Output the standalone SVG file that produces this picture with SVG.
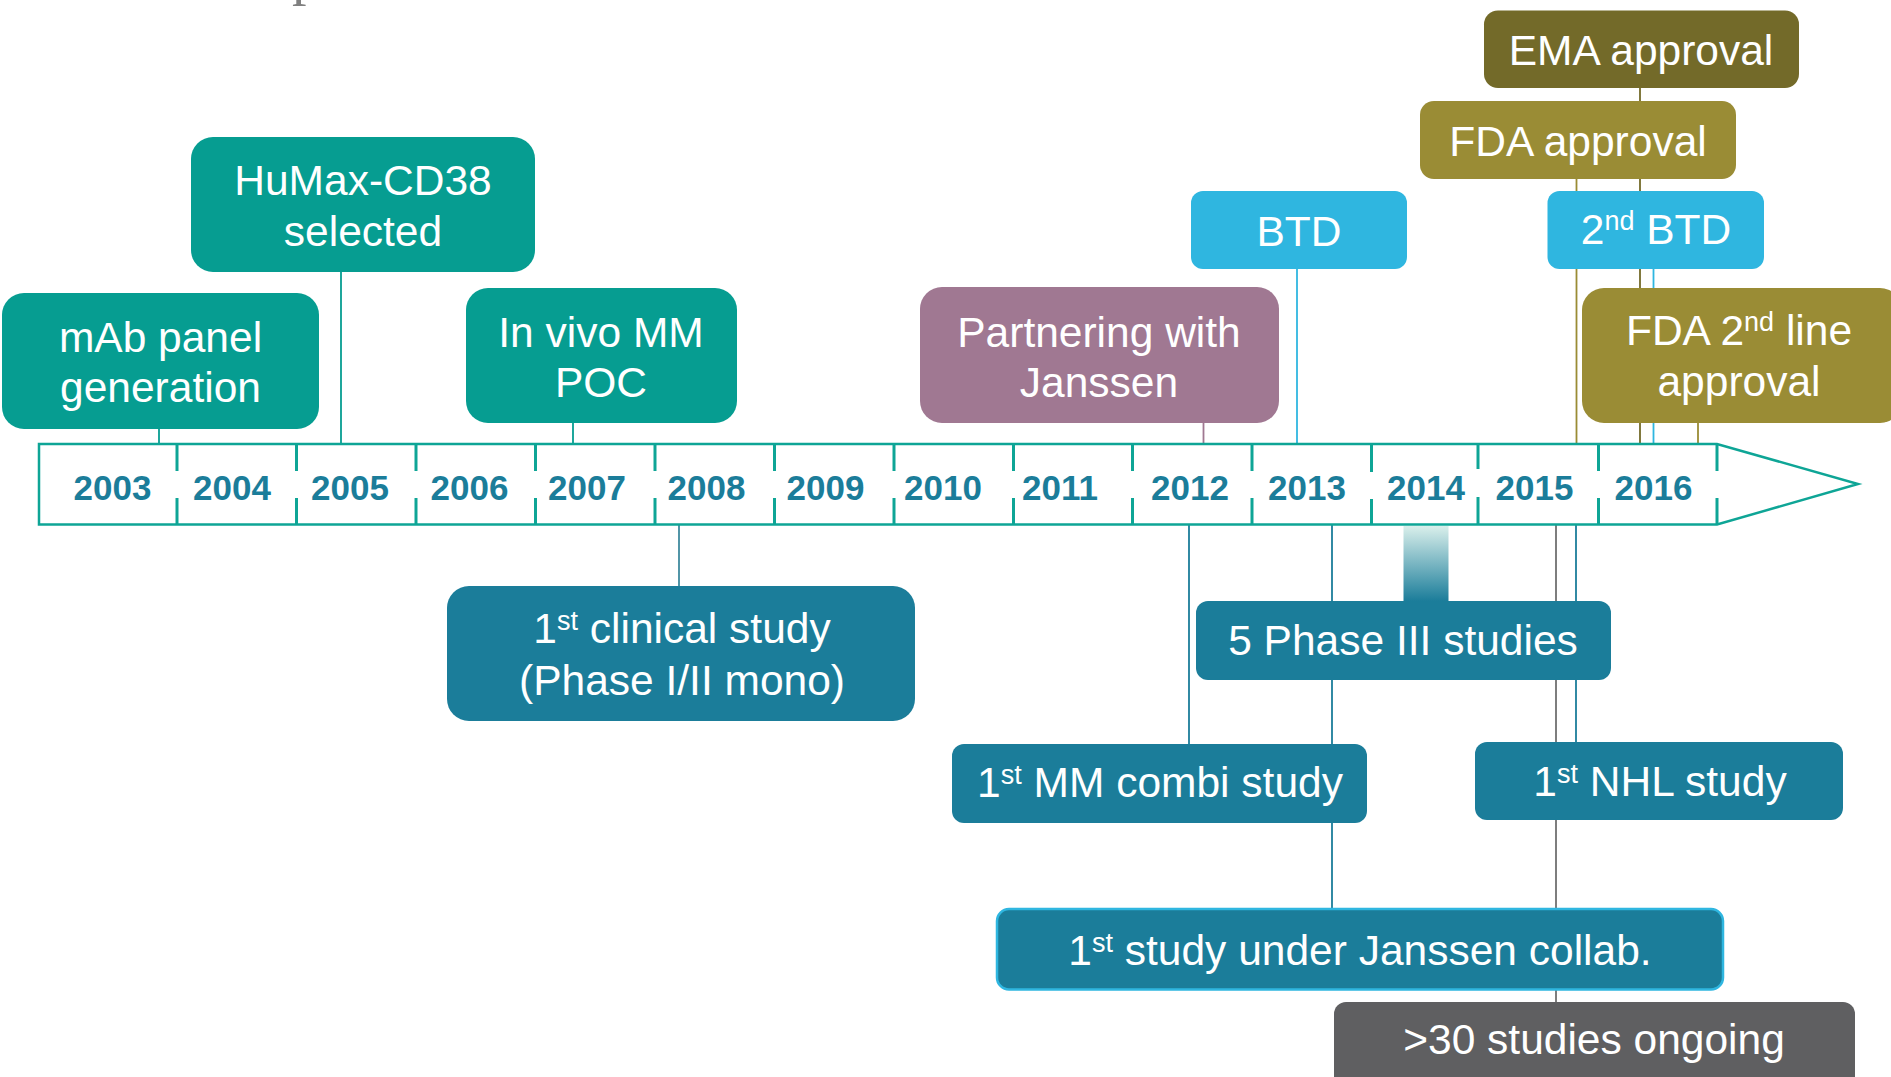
<svg xmlns="http://www.w3.org/2000/svg" width="1891" height="1077" viewBox="0 0 1891 1077">
<style>
  .lbl { font-family: "Liberation Sans", Arial, sans-serif; font-size: 42.5px; fill: #ffffff; text-anchor: middle; }
  .sup { font-size: 27px; }
  .yr { font-family: "Liberation Sans", Arial, sans-serif; font-size: 35px; font-weight: bold; fill: #1b7d9a; text-anchor: middle; }
  .teal { fill: #069d91; }
  .blue { fill: #1b7d9a; }
  .cyan { fill: #2fb6e0; }
  .mauve { fill: #a07892; }
  .olive { fill: #9a8c35; }
  .dolive { fill: #736a29; }
  .gray { fill: #5f5f61; }
  .tick { stroke: #0ea596; stroke-width: 3; }
  line.c { stroke-width: 1.8; }
</style>
<defs>
  <linearGradient id="g3" x1="0" y1="0" x2="0" y2="1">
    <stop offset="0" stop-color="#d9efeb"/>
    <stop offset="1" stop-color="#1b7d9a"/>
  </linearGradient>
</defs>

<text x="292" y="-6" font-family="Liberation Serif, serif" font-size="58" fill="#808080">p</text>

<g id="connectors">
  <line class="c" x1="159" y1="429" x2="159" y2="444" stroke="#069d91"/>
  <line class="c" x1="341" y1="272" x2="341" y2="444" stroke="#069d91"/>
  <line class="c" x1="573" y1="423" x2="573" y2="444" stroke="#069d91"/>
  <line class="c" x1="1203.5" y1="423" x2="1203.5" y2="444" stroke="#a07892"/>
  <line class="c" x1="1297" y1="269" x2="1297" y2="444" stroke="#2fb6e0"/>
  <line class="c" x1="1576.5" y1="179" x2="1576.5" y2="444" stroke="#9a8c35"/>
  <line class="c" x1="1640" y1="88" x2="1640" y2="444" stroke="#736a29"/>
  <line class="c" x1="1653.5" y1="269" x2="1653.5" y2="444" stroke="#2fb6e0"/>
  <line class="c" x1="1698" y1="423" x2="1698" y2="444" stroke="#9a8c35"/>
  <line class="c" x1="679" y1="525" x2="679" y2="586" stroke="#3f8a9e"/>
  <line class="c" x1="1189" y1="525" x2="1189" y2="744" stroke="#1b7d9a"/>
  <line class="c" x1="1332" y1="525" x2="1332" y2="909" stroke="#1b7d9a"/>
  <line class="c" x1="1556" y1="525" x2="1556" y2="1002" stroke="#707070"/>
  <line class="c" x1="1576" y1="525" x2="1576" y2="742" stroke="#1b7d9a"/>
</g>

<g id="timeline">
  <path d="M39,444 H1717 L1858,484 L1717,524.5 H39 Z" fill="#ffffff" stroke="#0ea596" stroke-width="2.5"/>
  <g class="tick">
    <line x1="177" y1="444" x2="177" y2="471"/><line x1="177" y1="498" x2="177" y2="524.5"/>
    <line x1="296.5" y1="444" x2="296.5" y2="471"/><line x1="296.5" y1="498" x2="296.5" y2="524.5"/>
    <line x1="416" y1="444" x2="416" y2="471"/><line x1="416" y1="498" x2="416" y2="524.5"/>
    <line x1="535.5" y1="444" x2="535.5" y2="471"/><line x1="535.5" y1="498" x2="535.5" y2="524.5"/>
    <line x1="655" y1="444" x2="655" y2="471"/><line x1="655" y1="498" x2="655" y2="524.5"/>
    <line x1="774.5" y1="444" x2="774.5" y2="471"/><line x1="774.5" y1="498" x2="774.5" y2="524.5"/>
    <line x1="894" y1="444" x2="894" y2="471"/><line x1="894" y1="498" x2="894" y2="524.5"/>
    <line x1="1013.5" y1="444" x2="1013.5" y2="471"/><line x1="1013.5" y1="498" x2="1013.5" y2="524.5"/>
    <line x1="1132.5" y1="444" x2="1132.5" y2="471"/><line x1="1132.5" y1="498" x2="1132.5" y2="524.5"/>
    <line x1="1252" y1="444" x2="1252" y2="471"/><line x1="1252" y1="498" x2="1252" y2="524.5"/>
    <line x1="1371.5" y1="444" x2="1371.5" y2="472"/><line x1="1371.5" y1="499" x2="1371.5" y2="524.5"/>
    <line x1="1478" y1="444" x2="1478" y2="469"/><line x1="1478" y1="497" x2="1478" y2="524.5"/>
    <line x1="1598.5" y1="444" x2="1598.5" y2="471"/><line x1="1598.5" y1="498" x2="1598.5" y2="524.5"/>
    <line x1="1717" y1="444" x2="1717" y2="471"/><line x1="1717" y1="498" x2="1717" y2="524.5"/>
  </g>
  <text class="yr" x="112.5" y="500">2003</text>
  <text class="yr" x="232" y="500">2004</text>
  <text class="yr" x="350" y="500">2005</text>
  <text class="yr" x="469.5" y="500">2006</text>
  <text class="yr" x="587" y="500">2007</text>
  <text class="yr" x="706.5" y="500">2008</text>
  <text class="yr" x="825.5" y="500">2009</text>
  <text class="yr" x="943" y="500">2010</text>
  <text class="yr" x="1060" y="500">2011</text>
  <text class="yr" x="1190" y="500">2012</text>
  <text class="yr" x="1307" y="500">2013</text>
  <text class="yr" x="1426" y="500">2014</text>
  <text class="yr" x="1534.5" y="500">2015</text>
  <text class="yr" x="1653.5" y="500">2016</text>
</g>

<g id="phase3-span">
  <rect x="1403.5" y="526" width="45" height="75" fill="url(#g3)"/>
</g>

<g id="n-mab">
  <rect class="teal" x="2" y="293" width="317" height="136" rx="22"/>
  <text class="lbl" x="160.5" y="352">mAb panel</text>
  <text class="lbl" x="160.5" y="402">generation</text>
</g>
<g id="n-humax">
  <rect class="teal" x="191" y="137" width="344" height="135" rx="22"/>
  <text class="lbl" x="363" y="195">HuMax-CD38</text>
  <text class="lbl" x="363" y="246">selected</text>
</g>
<g id="n-invivo">
  <rect class="teal" x="466" y="288" width="271" height="135" rx="22"/>
  <text class="lbl" x="601" y="347">In vivo MM</text>
  <text class="lbl" x="601" y="397">POC</text>
</g>
<g id="n-partnering">
  <rect class="mauve" x="920" y="287" width="359" height="136" rx="22"/>
  <text class="lbl" x="1099" y="347">Partnering with</text>
  <text class="lbl" x="1099" y="397">Janssen</text>
</g>
<g id="n-btd">
  <rect class="cyan" x="1191" y="191" width="216" height="78" rx="12"/>
  <text class="lbl" x="1299" y="246">BTD</text>
</g>
<g id="n-ema">
  <rect class="dolive" x="1484" y="10.5" width="315" height="77.5" rx="14"/>
  <text class="lbl" x="1641" y="65">EMA approval</text>
</g>
<g id="n-fda">
  <rect class="olive" x="1420" y="101" width="316" height="78" rx="14"/>
  <text class="lbl" x="1578" y="156">FDA approval</text>
</g>
<g id="n-btd2">
  <rect class="cyan" x="1547.5" y="191" width="216.5" height="78" rx="12"/>
  <text class="lbl" x="1656" y="244">2<tspan class="sup" dy="-14">nd</tspan><tspan dy="14"> BTD</tspan></text>
</g>
<g id="n-fda2">
  <rect class="olive" x="1582" y="288" width="320" height="135" rx="22"/>
  <text class="lbl" x="1739" y="345">FDA 2<tspan class="sup" dy="-14">nd</tspan><tspan dy="14"> line</tspan></text>
  <text class="lbl" x="1739" y="396">approval</text>
</g>
<g id="n-clinical">
  <rect class="blue" x="447" y="586" width="468" height="135" rx="22"/>
  <text class="lbl" x="682" y="643">1<tspan class="sup" dy="-13">st</tspan><tspan dy="13"> clinical study</tspan></text>
  <text class="lbl" x="682" y="695">(Phase I/II mono)</text>
</g>
<g id="n-phase3">
  <rect class="blue" x="1196" y="601" width="415" height="79" rx="12"/>
  <text class="lbl" x="1403" y="655">5 Phase III studies</text>
</g>
<g id="n-mmcombi">
  <rect class="blue" x="952" y="744" width="415" height="79" rx="12"/>
  <text class="lbl" x="1160" y="797">1<tspan class="sup" dy="-13">st</tspan><tspan dy="13"> MM combi study</tspan></text>
</g>
<g id="n-nhl">
  <rect class="blue" x="1475" y="742" width="368" height="78" rx="12"/>
  <text class="lbl" x="1660" y="796">1<tspan class="sup" dy="-13">st</tspan><tspan dy="13"> NHL study</tspan></text>
</g>
<g id="n-janssen-collab">
  <rect class="blue" x="997" y="909" width="726" height="80.5" rx="12" stroke="#2fb6e0" stroke-width="2.5"/>
  <text class="lbl" x="1360" y="964.5">1<tspan class="sup" dy="-13">st</tspan><tspan dy="13"> study under Janssen collab.</tspan></text>
</g>
<g id="n-ongoing">
  <rect class="gray" x="1334" y="1002" width="521" height="110" rx="12"/>
  <text class="lbl" x="1594" y="1054">&gt;30 studies ongoing</text>
</g>
</svg>
